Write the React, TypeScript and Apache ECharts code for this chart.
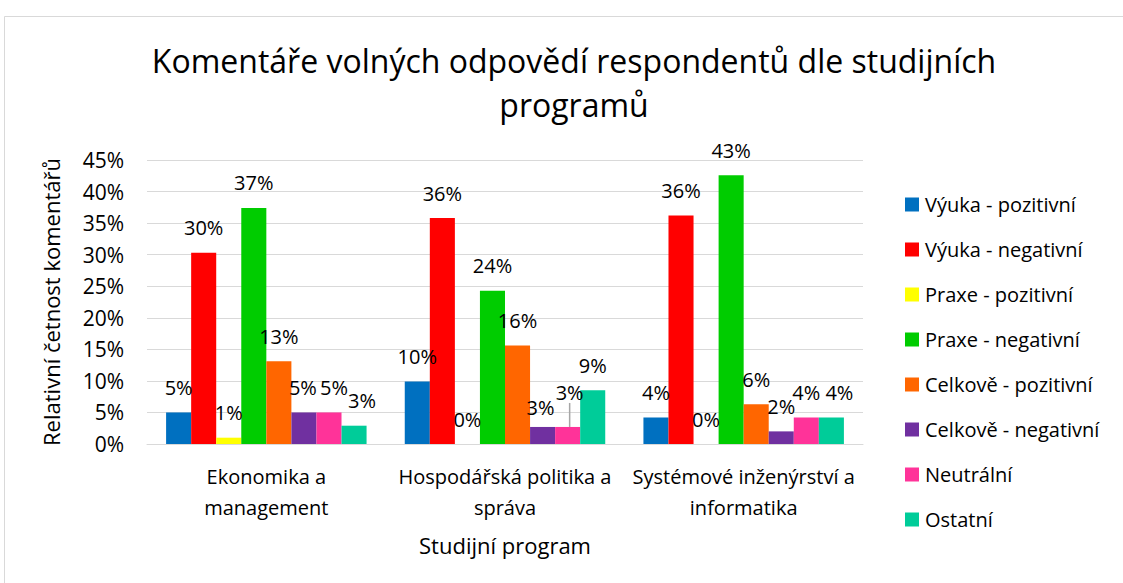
import React, { useEffect, useRef } from "react";
import * as echarts from "echarts";

const categories = [
  "Ekonomika a\nmanagement",
  "Hospodářská politika a\nspráva",
  "Systémové inženýrství a\ninformatika",
];
const seriesNames = [
  "Výuka - pozitivní",
  "Výuka - negativní",
  "Praxe - pozitivní",
  "Praxe - negativní",
  "Celkově - pozitivní",
  "Celkově - negativní",
  "Neutrální",
  "Ostatní",
];
const vyukaPozitivni = [5.0, 9.9, 4.2];
const vyukaNegativni = [30.3, 35.8, 36.2];
const praxePozitivni = [1.0, 0, 0];
const praxeNegativni = [37.4, 24.3, 42.6];
const celkovePozitivni = [13.1, 15.6, 6.3];
const celkoveNegativni = [5.0, 2.7, 2.0];
const neutralni = [5.0, 2.7, 4.2];
const ostatni = [2.9, 8.5, 4.2];
const seriesValues = [
  vyukaPozitivni,
  vyukaNegativni,
  praxePozitivni,
  praxeNegativni,
  celkovePozitivni,
  celkoveNegativni,
  neutralni,
  ostatni,
];
const colors = [
  "#0070C0",
  "#FF0000",
  "#FFFF00",
  "#00CC00",
  "#FF6600",
  "#7030A0",
  "#FF3399",
  "#00CC99",
];
const yTicks = { min: 0, max: 45, interval: 5 };

// label nudges "series-category" -> [dx, dy], as placed in the reference
const labelNudges: Record<string, [number, number]> = {
  "5-0": [-1, 0],
  "6-0": [5, 0],
  "7-0": [8, 0],
  "5-1": [-2, 6],
  "6-1": [2, -9],
  "7-2": [8, 0],
};
const leaderLineItem = "6-1";

const FONT = "Open Sans";

export default function App() {
  const ref = useRef<HTMLDivElement>(null);
  useEffect(() => {
    document.body.style.margin = "0";
    const chart = echarts.init(ref.current!, undefined, { renderer: "svg" });
    chart.setOption({
      animation: false,
      backgroundColor: "#ffffff",
      textStyle: { fontFamily: FONT, color: "#000" },
      title: {
        text: "Komentáře volných odpovědí respondentů dle studijních\nprogramů",
        left: 569,
        textAlign: "center",
        top: 33,
        textStyle: {
          fontFamily: FONT,
          fontSize: 32,
          fontWeight: "normal",
          color: "#000",
          lineHeight: 44,
        },
      },
      graphic: [
        {
          type: "rect",
          shape: { x: 4.5, y: 16.5, width: 1130, height: 580 },
          style: { fill: "none", stroke: "#d9d9d9", lineWidth: 1 },
          silent: true,
        },
      ],
      legend: {
        orient: "vertical",
        left: 905,
        top: 194,
        padding: 0,
        itemWidth: 14,
        itemHeight: 14,
        itemGap: 24,
        icon: "rect",
        textStyle: {
          fontFamily: FONT,
          fontSize: 20,
          lineHeight: 21,
          color: "#000",
          padding: [0, 0, 0, 1],
        },
        data: seriesNames,
      },
      grid: { left: 147, right: 260, top: 160, bottom: 139, containLabel: false },
      xAxis: {
        type: "category",
        data: categories,
        name: "Studijní program",
        nameLocation: "middle",
        nameGap: 90,
        nameTextStyle: { fontFamily: FONT, fontSize: 22, color: "#000" },
        axisLine: { lineStyle: { color: "#d9d9d9", width: 1 } },
        axisTick: { show: false },
        axisLabel: {
          fontFamily: FONT,
          fontSize: 20,
          color: "#000",
          lineHeight: 31,
          margin: 17,
          interval: 0,
        },
      },
      yAxis: {
        type: "value",
        min: yTicks.min,
        max: yTicks.max,
        interval: yTicks.interval,
        name: "Relativní četnost komentářů",
        nameLocation: "middle",
        nameGap: 85,
        nameRotate: 90,
        nameTextStyle: { fontFamily: FONT, fontSize: 22, color: "#000" },
        axisLine: { show: false },
        axisTick: { show: false },
        axisLabel: {
          formatter: "{value}%",
          fontFamily: FONT,
          fontSize: 21,
          color: "#000",
          margin: 23,
        },
        splitLine: { lineStyle: { color: "#d9d9d9", width: 1 } },
      },
      series: seriesNames.map((name, i) => ({
        name,
        type: "bar",
        data: seriesValues[i].map((v, j) =>
          i + "-" + j === leaderLineItem
            ? { value: v, labelLine: { show: true, lineStyle: { color: "#a6a6a6", width: 1.5 } } }
            : v
        ),
        barGap: "0%",
        barCategoryGap: "16%",
        itemStyle: { color: colors[i] },
        labelLine: { show: false },
        labelLayout: (p: any) => {
          const n = labelNudges[i + "-" + p.dataIndex];
          return n ? { dx: n[0], dy: n[1] } : {};
        },
        label: {
          show: true,
          position: "top",
          distance: 15,
          formatter: (p: any) => Math.round(p.value) + "%",
          fontFamily: FONT,
          fontSize: 20,
          color: "#000",
        },
      })),
    });
    return () => chart.dispose();
  }, []);
  return <div ref={ref} style={{ width: 1123, height: 583 }} />;
}
